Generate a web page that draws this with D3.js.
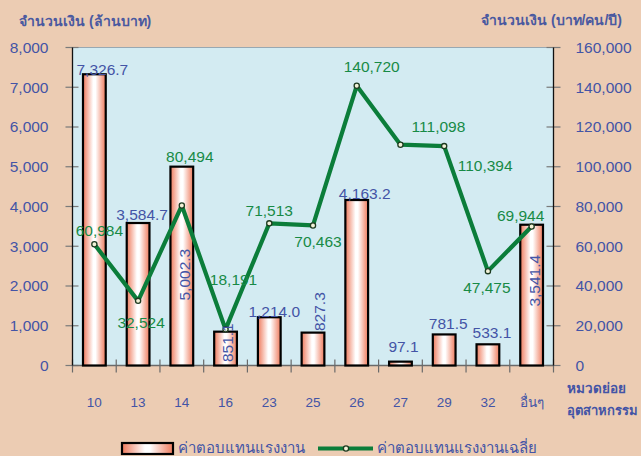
<!DOCTYPE html>
<html>
<head>
<meta charset="utf-8">
<script src="https://cdn.jsdelivr.net/npm/d3@7"></script>
<style>
  html, body { margin: 0; padding: 0; background: #ECCCB3; }
  svg { display: block; font-family: Tahoma, "Liberation Sans", "Noto Sans", sans-serif; }
</style>
</head>
<body>
<svg id="chart" width="641" height="456"></svg>
<script>
// ---- 数据 ----
const categories = ["10", "13", "14", "16", "23", "25", "26", "27", "29", "32", "อื่นๆ"];
const wages = [7326.7, 3584.7, 5002.3, 851.1, 1214.0, 827.3, 4163.2, 97.1, 781.5, 533.1, 3541.4];      // ล้านบาท
const avgWages = [60984, 32524, 80494, 18191, 71513, 70463, 140720, 111098, 110394, 47475, 69944];  // บาท/คน/ปี
const leftTicks = [0, 1000, 2000, 3000, 4000, 5000, 6000, 7000, 8000];
const rightTicks = [0, 20000, 40000, 60000, 80000, 100000, 120000, 140000, 160000];

// 标签摆放（相对柱顶/折线点的偏移，rot=竖排）
const barLabelPos = [
  { dx: 8, dy: 1 }, { dx: 4, dy: -3 }, { dx: 3, dy: 108, rot: true }, { dx: 2, dy: 11, rot: true },
  { dx: 5, dy: 0 }, { dx: 7, dy: -21, rot: true }, { dx: 8, dy: -1 }, { dx: 3, dy: -10 },
  { dx: 4, dy: -5 }, { dx: 4, dy: -6 }, { dx: 3, dy: 56, rot: true }
];
const lineLabelPos = [
  [5, -8], [3, 27], [8, -44], [8, -44], [0, -7], [5, 22], [15, -14], [38, -13], [41, 25], [-1, 22], [-11, -5]
];

const BLUE = "#4354A6", GREEN = "#178A46", LINE = "#0B7D3A";
const fmt1 = d3.format(",.1f"), fmt0 = d3.format(",");

const svg = d3.select("#chart");
const m = { l: 72.5, r: 553.5, t: 47.5, b: 365.5 };

const defs = svg.append("defs");
const grad = defs.append("linearGradient").attr("id", "barGrad").attr("x1", 0).attr("x2", 1).attr("y1", 0).attr("y2", 0);
grad.append("stop").attr("offset", "0%").attr("stop-color", "#EE7A5C");
grad.append("stop").attr("offset", "45%").attr("stop-color", "#FFFFFF");
grad.append("stop").attr("offset", "55%").attr("stop-color", "#FFFFFF");
grad.append("stop").attr("offset", "100%").attr("stop-color", "#EE7A5C");

// 绘图区
svg.append("rect").attr("x", m.l).attr("y", m.t).attr("width", m.r - m.l).attr("height", m.b - m.t)
  .attr("fill", "#D3EBF2");
svg.append("line").attr("x1", m.l).attr("x2", m.r).attr("y1", m.t).attr("y2", m.t)
  .attr("stroke", "#98A8B2").attr("stroke-width", 1);

const x = d3.scaleBand().domain(categories).range([m.l, m.r]).padding(0);
const yL = d3.scaleLinear().domain([0, 8000]).range([m.b, m.t]);
const yR = d3.scaleLinear().domain([0, 160000]).range([m.b, m.t]);
const cx = (i) => x(categories[i]) + x.bandwidth() / 2;
const bw = x.bandwidth() * 0.52;

// 轴
const axL = svg.append("g").attr("transform", `translate(${m.l},0)`)
  .call(d3.axisLeft(yL).tickValues(leftTicks).tickSize(0).tickFormat(fmt0));
axL.select(".domain").remove();
axL.selectAll("text").attr("x", -24).attr("fill", BLUE).style("font-size", "15.5px")
  .attr("font-family", "'Liberation Sans', sans-serif");
svg.append("g").selectAll("line").data(leftTicks).join("line")
  .attr("x1", m.l - 7).attr("x2", m.l + 6).attr("y1", (d) => yL(d)).attr("y2", (d) => yL(d))
  .attr("stroke", "#7A7A7A").attr("stroke-width", 1.2);

const axR = svg.append("g").attr("transform", `translate(${m.r},0)`)
  .call(d3.axisRight(yR).tickValues(rightTicks).tickSize(0).tickFormat(fmt0));
axR.select(".domain").remove();
axR.selectAll("text").attr("x", 22).attr("fill", BLUE).style("font-size", "15.5px")
  .attr("font-family", "'Liberation Sans', sans-serif");
svg.append("g").selectAll("line").data(rightTicks).join("line")
  .attr("x1", m.r - 7).attr("x2", m.r + 7).attr("y1", (d) => yR(d)).attr("y2", (d) => yR(d))
  .attr("stroke", "#7A7A7A").attr("stroke-width", 1.2);

// x 轴：类目间刻度
const xTicks = d3.range(categories.length + 1).map((i) => m.l + i * x.step());
svg.append("g").selectAll("line").data(xTicks).join("line")
  .attr("x1", (d) => d).attr("x2", (d) => d).attr("y1", m.b - 6).attr("y2", m.b + 7)
  .attr("stroke", "#6A6A6A").attr("stroke-width", 1.2);
svg.append("g").selectAll("text").data(categories).join("text")
  .attr("x", (d, i) => cx(i)).attr("y", 407).attr("text-anchor", "middle")
  .attr("fill", BLUE).style("font-size", "13.5px").text((d) => d);

svg.append("line").attr("x1", m.l).attr("x2", m.r).attr("y1", m.b).attr("y2", m.b)
  .attr("stroke", "#6A6A6A").attr("stroke-width", 1.5);
svg.append("line").attr("x1", m.l).attr("x2", m.l).attr("y1", m.t).attr("y2", m.b)
  .attr("stroke", "#111").attr("stroke-width", 1.3);
svg.append("line").attr("x1", m.r).attr("x2", m.r).attr("y1", m.t).attr("y2", m.b)
  .attr("stroke", "#111").attr("stroke-width", 1.3);

// 柱
svg.append("g").selectAll("rect").data(wages).join("rect")
  .attr("x", (d, i) => cx(i) - bw / 2).attr("width", bw)
  .attr("y", (d) => yL(d)).attr("height", (d) => m.b - yL(d))
  .attr("fill", "url(#barGrad)").attr("stroke", "#000").attr("stroke-width", 2.2);

// 折线
const line = d3.line().x((d, i) => cx(i)).y((d) => yR(d));
svg.append("path").datum(avgWages).attr("d", line).attr("fill", "none")
  .attr("stroke", LINE).attr("stroke-width", 4.2).attr("stroke-linejoin", "round");
svg.append("g").selectAll("circle").data(avgWages).join("circle")
  .attr("cx", (d, i) => cx(i)).attr("cy", (d) => yR(d)).attr("r", 2.6)
  .attr("fill", "#F2F2D8").attr("stroke", "#1E3A20").attr("stroke-width", 1.3);

// 柱标签
svg.append("g").selectAll("text").data(wages).join("text")
  .attr("transform", (d, i) => {
    const p = barLabelPos[i];
    const tx = cx(i) + p.dx, ty = yL(d) + p.dy;
    return p.rot ? `translate(${tx + 5},${ty}) rotate(-90)` : `translate(${tx},${ty})`;
  })
  .attr("text-anchor", "middle")
  .attr("font-family", "'Liberation Sans', sans-serif")
  .attr("fill", BLUE).style("font-size", "15.5px").text((d) => fmt1(d));

// 折线标签
svg.append("g").selectAll("text").data(avgWages).join("text")
  .attr("x", (d, i) => cx(i) + lineLabelPos[i][0]).attr("y", (d, i) => yR(d) + lineLabelPos[i][1])
  .attr("text-anchor", "middle")
  .attr("font-family", "'Liberation Sans', sans-serif")
  .attr("fill", GREEN).style("font-size", "15.5px").text((d) => fmt0(d));

// 轴标题
svg.append("text").attr("x", 19).attr("y", 26).attr("fill", "#4A59A0")
  .style("font-size", "14px").style("font-weight", "bold").text("จำนวนเงิน (ล้านบาท)");
svg.append("text").attr("x", 622).attr("y", 25).attr("text-anchor", "end").attr("fill", "#4A59A0")
  .style("font-size", "14px").style("font-weight", "bold").text("จำนวนเงิน (บาท/คน/ปี)");
svg.append("text").attr("x", 567).attr("y", 393).attr("fill", BLUE)
  .style("font-size", "13.5px").style("font-weight", "bold").text("หมวดย่อย");
svg.append("text").attr("x", 567).attr("y", 415).attr("fill", BLUE)
  .style("font-size", "13px").style("font-weight", "bold").text("อุตสาหกรรม");

// 图例
const lg = svg.append("g");
lg.append("rect").attr("x", 122).attr("y", 443).attr("width", 51).attr("height", 11)
  .attr("fill", "url(#barGrad)").attr("stroke", "#000").attr("stroke-width", 2.2);
lg.append("text").attr("x", 178).attr("y", 453).attr("fill", BLUE)
  .style("font-size", "15px").text("ค่าตอบแทนแรงงาน");
lg.append("line").attr("x1", 318).attr("x2", 373).attr("y1", 448.5).attr("y2", 448.5)
  .attr("stroke", LINE).attr("stroke-width", 4.2);
lg.append("circle").attr("cx", 346).attr("cy", 448.5).attr("r", 2.6)
  .attr("fill", "#F2F2D8").attr("stroke", "#1E3A20").attr("stroke-width", 1.3);
lg.append("text").attr("x", 377).attr("y", 453).attr("fill", BLUE)
  .style("font-size", "15px").text("ค่าตอบแทนแรงงานเฉลี่ย");
</script>
</body>
</html>
